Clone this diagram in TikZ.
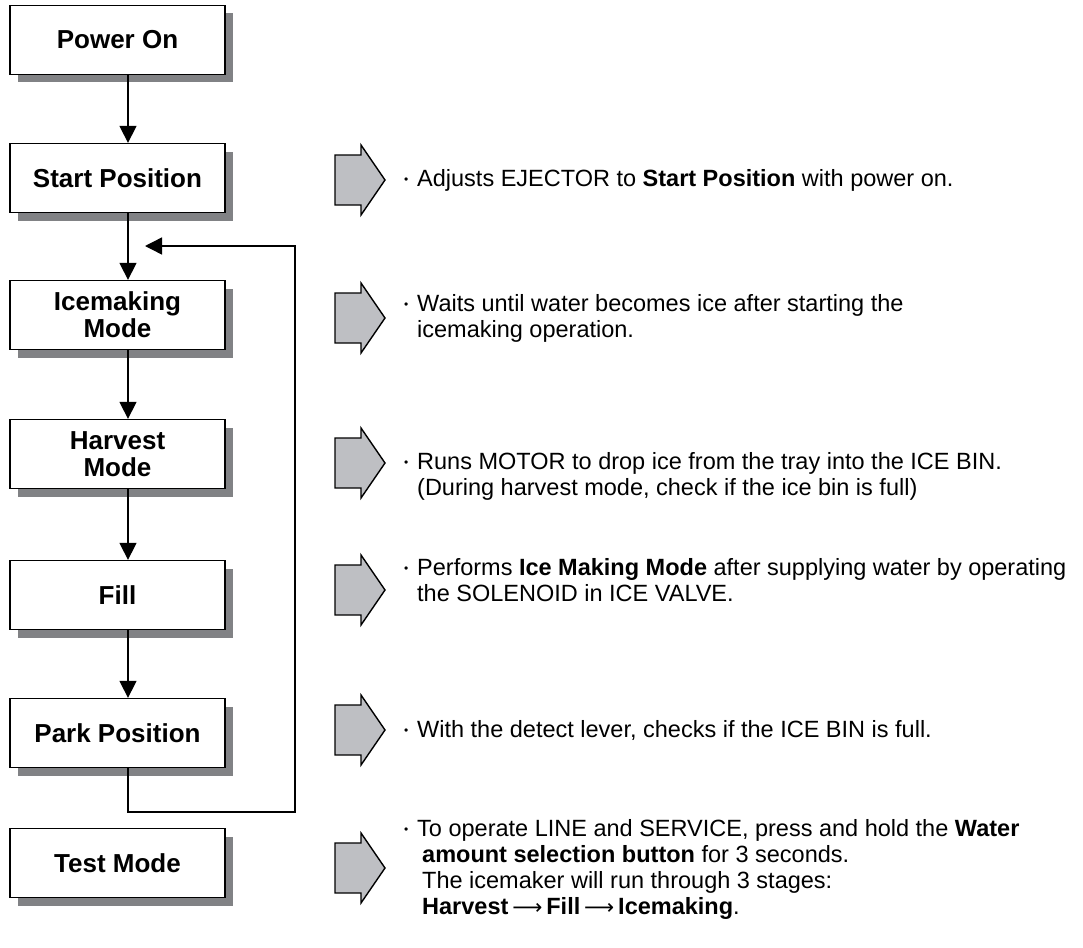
\documentclass[tikz,border=0pt]{standalone}
\usepackage{fontspec}
\setmainfont{Liberation Sans}
\newfontfamily\arrowfont{DejaVu Sans}
\usetikzlibrary{arrows.meta,positioning,shadows}
\definecolor{shadowgray}{HTML}{818285}
\definecolor{arrowgray}{HTML}{BEBFC3}

\newcommand{\bul}{\makebox[13pt][l]{\raisebox{2.5pt}{\fontsize{12}{12}\selectfont\textbullet}}}
\newcommand{\ind}{\hspace*{13pt}}
\newcommand{\longto}{\,{\arrowfont\fontsize{21}{21}\selectfont ⟶}\,}

\tikzset{
  stage/.style={draw=black, line width=1.3pt, fill=white, minimum width=215pt,
    minimum height=69pt, align=center, font=\fontsize{26}{27}\selectfont\bfseries,
    drop shadow={shadow xshift=8pt, shadow yshift=-8pt, fill=shadowgray, opacity=1}},
  flow/.style={-{Triangle[length=17pt,width=17pt]}, line width=1.4pt},
  bigarrow/.style={draw=black, line width=1.4pt, fill=arrowgray, line join=miter},
  note/.style={anchor=west, align=left, inner sep=0pt, font=\fontsize{23.5}{26}\selectfont},
}

\begin{document}
\begin{tikzpicture}[x=1pt,y=-1pt]
        \useasboundingbox (0,0) rectangle (1083,947);
        % stages
        \node[stage] (power) at (117.5,40) {Power On};
        \node[stage] (start) at (117.5,178) {Start Position};
        \node[stage] (icemaking) at (117.5,315) {Icemaking\\Mode};
        \node[stage] (harvest) at (117.5,454) {Harvest\\Mode};
        \node[stage] (fill) at (117.5,595) {Fill};
        \node[stage] (park) at (117.5,733) {Park Position};
        \node[stage] (test) at (117.5,863) {Test Mode};
        % connectors
        \draw[flow] ([xshift=10.5pt]power.south) -- ([xshift=10.5pt]start.north);
        \draw[flow] ([xshift=10.5pt]start.south) -- ([xshift=10.5pt]icemaking.north);
        \draw[flow] ([xshift=10.5pt]icemaking.south) -- ([xshift=10.5pt]harvest.north);
        \draw[flow] ([xshift=10.5pt]harvest.south) -- ([xshift=10.5pt]fill.north);
        \draw[flow] ([xshift=10.5pt]fill.south) -- ([xshift=10.5pt]park.north);
        \coordinate (loopend) at (145,246);
        \draw[flow] ([xshift=10.5pt]park.south) -- ++(0,44) -| (295,246) -- (loopend);
        % side arrows
        \foreach \y in {180,318,463,590,730,868}
          \draw[bigarrow,shift={(0,\y)}] (335,-25) -- (361,-25) -- (361,-35) -- (385,0)
            -- (361,35) -- (361,25) -- (335,25) -- cycle;
        % notes
        \node[note] (startnote) at (404,180) {\bul Adjusts EJECTOR to \textbf{Start Position} with power on.};
        \node[note] (icenote) at (404,318) {\bul Waits until water becomes ice after starting the\\\ind icemaking operation.};
        \node[note] (harvestnote) at (404,476) {\bul Runs MOTOR to drop ice from the tray into the ICE BIN.\\\ind(During harvest mode, check if the ice bin is full)};
        \node[note] (fillnote) at (404,580) {\bul Performs \textbf{Ice Making Mode} after supplying water by operating\\\ind the SOLENOID in ICE VALVE.};
        \node[note] (parknote) at (404,730) {\bul With the detect lever, checks if the ICE BIN is full.};
        \node[note] (testnote) at (404,869) {\bul To operate LINE and SERVICE, press and hold the \textbf{Water}\\
          \ind\hspace*{5pt}\textbf{amount selection button} for 3 seconds.\\
          \ind\hspace*{5pt}The icemaker will run through 3 stages:\\
          \ind\hspace*{5pt}\textbf{Harvest}\longto\textbf{Fill}\longto\textbf{Icemaking}.};
      \end{tikzpicture}
\end{document}
